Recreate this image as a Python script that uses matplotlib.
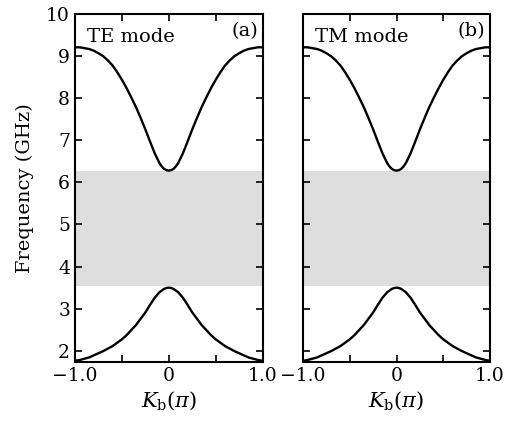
import numpy as np
import matplotlib
matplotlib.use("Agg")
import matplotlib.pyplot as plt

plt.rcParams["font.family"] = "DejaVu Serif"
plt.rcParams["mathtext.fontset"] = "dejavuserif"

# -------------------------------
# data (half band, k >= 0, mirrored below)
# -------------------------------
kb_half = [0.0, 0.025, 0.05, 0.075, 0.10, 0.15, 0.20, 0.25, 0.30, 0.35, 0.40, 0.45,
           0.50, 0.55, 0.60, 0.65, 0.70, 0.75, 0.80, 0.85, 0.90, 0.95, 1.00]
upper_half = [6.28, 6.29, 6.32, 6.38, 6.46, 6.69, 6.97, 7.26, 7.53, 7.79, 8.02, 8.24,
              8.44, 8.62, 8.78, 8.90, 9.00, 9.07, 9.13, 9.17, 9.19, 9.21, 9.21]
lower_half = [3.50, 3.49, 3.47, 3.43, 3.39, 3.26, 3.09, 2.91, 2.76, 2.61, 2.49, 2.37,
              2.27, 2.19, 2.11, 2.05, 1.99, 1.94, 1.89, 1.84, 1.81, 1.78, 1.76]

gap_low = 3.53
gap_high = 6.27

panels = [("TE mode", "(a)"), ("TM mode", "(b)")]
xtick_pos = [-1.0, 0.0, 1.0]
xtick_labels = ["\u22121.0", "0", "1.0"]
ytick_pos = [2, 3, 4, 5, 6, 7, 8, 9, 10]

kb = [-k for k in kb_half[::-1]] + kb_half[1:]
upper = upper_half[::-1] + upper_half[1:]
lower = lower_half[::-1] + lower_half[1:]

# -------------------------------
# plot
# -------------------------------
fig = plt.figure(figsize=(5.1, 4.26), dpi=100)
boxes = [[0.147, 0.150, 0.368, 0.817], [0.594, 0.150, 0.367, 0.817]]

for i, (mode, tag) in enumerate(panels):
    ax = fig.add_axes(boxes[i])
    ax.axhspan(gap_low, gap_high, color="#dddddd", lw=0, zorder=0)
    ax.plot(kb, upper, color="black", lw=1.7)
    ax.plot(kb, lower, color="black", lw=1.7)
    ax.set_xlim(-1, 1)
    ax.set_ylim(1.73, 10.0)
    ax.set_xticks(xtick_pos)
    ax.set_xticklabels(xtick_labels)
    ax.set_xticks([-0.5, 0.5], minor=True)
    ax.set_yticks(ytick_pos)
    ax.tick_params(which="both", direction="in", top=True, right=True,
                   length=5, width=1.2, labelsize=13.5)
    if i == 0:
        ax.set_ylabel("Frequency (GHz)", fontsize=14, labelpad=9)
    else:
        ax.set_yticklabels([])
    ax.set_xlabel(r"$K_\mathrm{b}(\pi)$", fontsize=15, labelpad=3)
    for s in ax.spines.values():
        s.set_linewidth(1.5)
    ax.text(0.065, 0.935, mode, transform=ax.transAxes, fontsize=14,
            ha="left", va="center")
    ax.text(0.975, 0.95, tag, transform=ax.transAxes, fontsize=14,
            ha="right", va="center")

fig.savefig("out.png", dpi=100)
